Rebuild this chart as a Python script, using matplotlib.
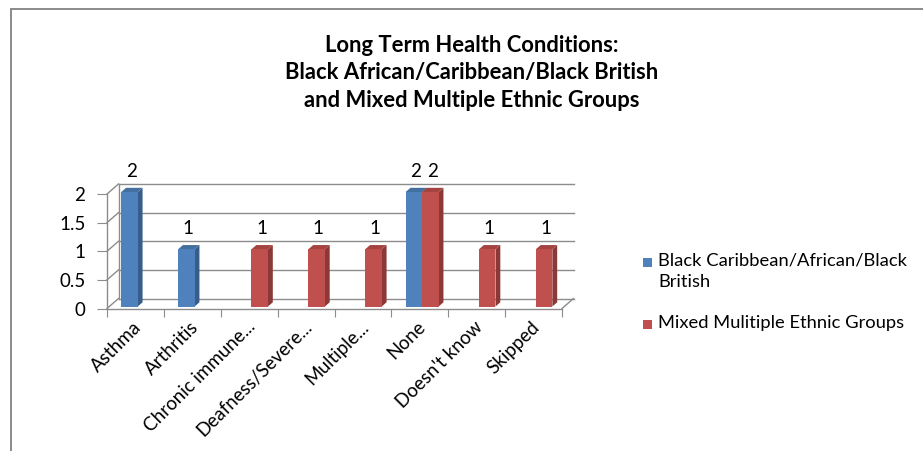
import matplotlib
matplotlib.use("Agg")
import matplotlib.pyplot as plt
from matplotlib.patches import Rectangle, Polygon
from matplotlib.transforms import ScaledTranslation

plt.rcParams['font.family'] = ['Lato', 'DejaVu Sans']

categories = ["Asthma", "Arthritis", "Chronic immune...", "Deafness/Severe...",
              "Multiple...", "None", "Doesn't know", "Skipped"]
black_caribbean = [2, 1, 0, 0, 0, 2, 0, 0]
mixed_multiple = [0, 0, 1, 1, 1, 2, 1, 1]
series_names = ["Black Caribbean/African/Black\nBritish", "Mixed Mulitiple Ethnic Groups"]
y_ticks = [0, 0.5, 1, 1.5, 2]
y_tick_labels = ["0", "0.5", "1", "1.5", "2"]

W, H = 923, 451
fig = plt.figure(figsize=(W / 100, H / 100), dpi=100)

# chart frame
fig.patches.append(Rectangle((11 / W, -0.1), 1.2, (H - 9) / H + 0.1, transform=fig.transFigure,
                             fill=False, edgecolor="#8a8a8a", linewidth=1.4))

# front plane of the 3-D plot area
x0, x1 = 107, 562
y0, y1 = 308.5, 194
ax = fig.add_axes([x0 / W, (H - y0) / H, (x1 - x0) / W, (y0 - y1) / H])
ax.set_xlim(-0.5, 7.5)
ax.set_ylim(0, 2)
ax.patch.set_visible(False)

grid_c = "#8c8c8c"
# depth offset (full depth of the plot box) in data units
DX = 11.5 * 8 / (x1 - x0)
DY = 10 * 2 / (y0 - y1)

for s in ["top", "right"]:
    ax.spines[s].set_visible(False)
for s in ["left", "bottom"]:
    ax.spines[s].set_color(grid_c)
    ax.spines[s].set_linewidth(1.0)

# back wall, left wall and floor
for yv in y_ticks:
    ax.plot([-0.5 + DX, 7.5 + DX], [yv + DY, yv + DY], color=grid_c, lw=1.0, clip_on=False, zorder=1)
    ax.plot([-0.5, -0.5 + DX], [yv, yv + DY], color=grid_c, lw=1.0, clip_on=False, zorder=1)
ax.plot([-0.5 + DX, -0.5 + DX], [DY, 2 + DY], color=grid_c, lw=1.0, clip_on=False, zorder=1)
ax.plot([7.5, 7.5 + DX], [0, DY], color=grid_c, lw=1.0, clip_on=False, zorder=1)

ax.set_yticks(y_ticks)
ax.set_yticklabels(y_tick_labels, fontsize=13.5, color="#000000")
ax.set_xticks([i - 0.5 for i in range(len(categories) + 1)])
ax.set_xticklabels([])
ax.set_xticks(range(len(categories)), minor=True)
ax.set_xticklabels(categories, minor=True, rotation=45, ha="right", va="top",
                   rotation_mode="anchor", fontsize=13.5)
ax.tick_params(axis="y", which="major", length=7, color=grid_c, pad=8.5)
ax.tick_params(axis="x", which="major", length=6, color=grid_c)
ax.tick_params(axis="x", which="minor", length=0, pad=7)
shift = ScaledTranslation(-3 / 100, 0, fig.dpi_scale_trans)
for lab in ax.get_xticklabels(minor=True):
    lab.set_transform(lab.get_transform() + shift)

# 3-D columns
bar_w = 0.29
front = 0.2   # depth fraction of column front face
depth = 0.42  # depth fraction of column thickness
series = [
    (black_caribbean, -bar_w, "#4f81bd", "#385d8a", "#44709f"),
    (mixed_multiple, 0.0, "#c0504d", "#8c3836", "#a4433f"),
]
for values, off, c_front, c_side, c_top in series:
    for i, v in enumerate(values):
        if v <= 0:
            continue
        xl = i + off + front * DX
        yb = front * DY
        xr = xl + bar_w
        ddx, ddy = depth * DX, depth * DY
        ax.add_patch(Polygon([(xr, yb), (xr + ddx, yb + ddy), (xr + ddx, v + yb + ddy), (xr, v + yb)],
                             closed=True, facecolor=c_side, edgecolor="none", zorder=3, clip_on=False))
        ax.add_patch(Polygon([(xl, v + yb), (xr, v + yb), (xr + ddx, v + yb + ddy), (xl + ddx, v + yb + ddy)],
                             closed=True, facecolor=c_top, edgecolor="none", zorder=3, clip_on=False))
        ax.add_patch(Rectangle((xl, yb), bar_w, v, facecolor=c_front, edgecolor="none",
                               zorder=4, clip_on=False))
        ax.text(xl + bar_w / 2 + 0.03, v + 0.4, f"{v:g}", ha="center", va="center",
                fontsize=13.5, color="#000000", clip_on=False)

# title
fig.text(472 / W, 1 - 73 / H,
         "Long Term Health Conditions:\nBlack African/Caribbean/Black British\nand Mixed Multiple Ethnic Groups",
         ha="center", va="center", fontsize=15.8, fontweight="bold", linespacing=1.40)

# legend
leg_rows = [(262, 0), (324, 1)]
for yc, k in leg_rows:
    color = series[k][2]
    fig.patches.append(Rectangle((643 / W, 1 - (yc + 4.5) / H), 9 / W, 9 / H,
                                 transform=fig.transFigure, facecolor=color, edgecolor="none"))
    name = series_names[k]
    fig.text(658 / W, 1 - (yc - 9) / H, name, ha="left", va="top", fontsize=13.2,
             linespacing=1.35)

fig.savefig("out.png", dpi=100)
